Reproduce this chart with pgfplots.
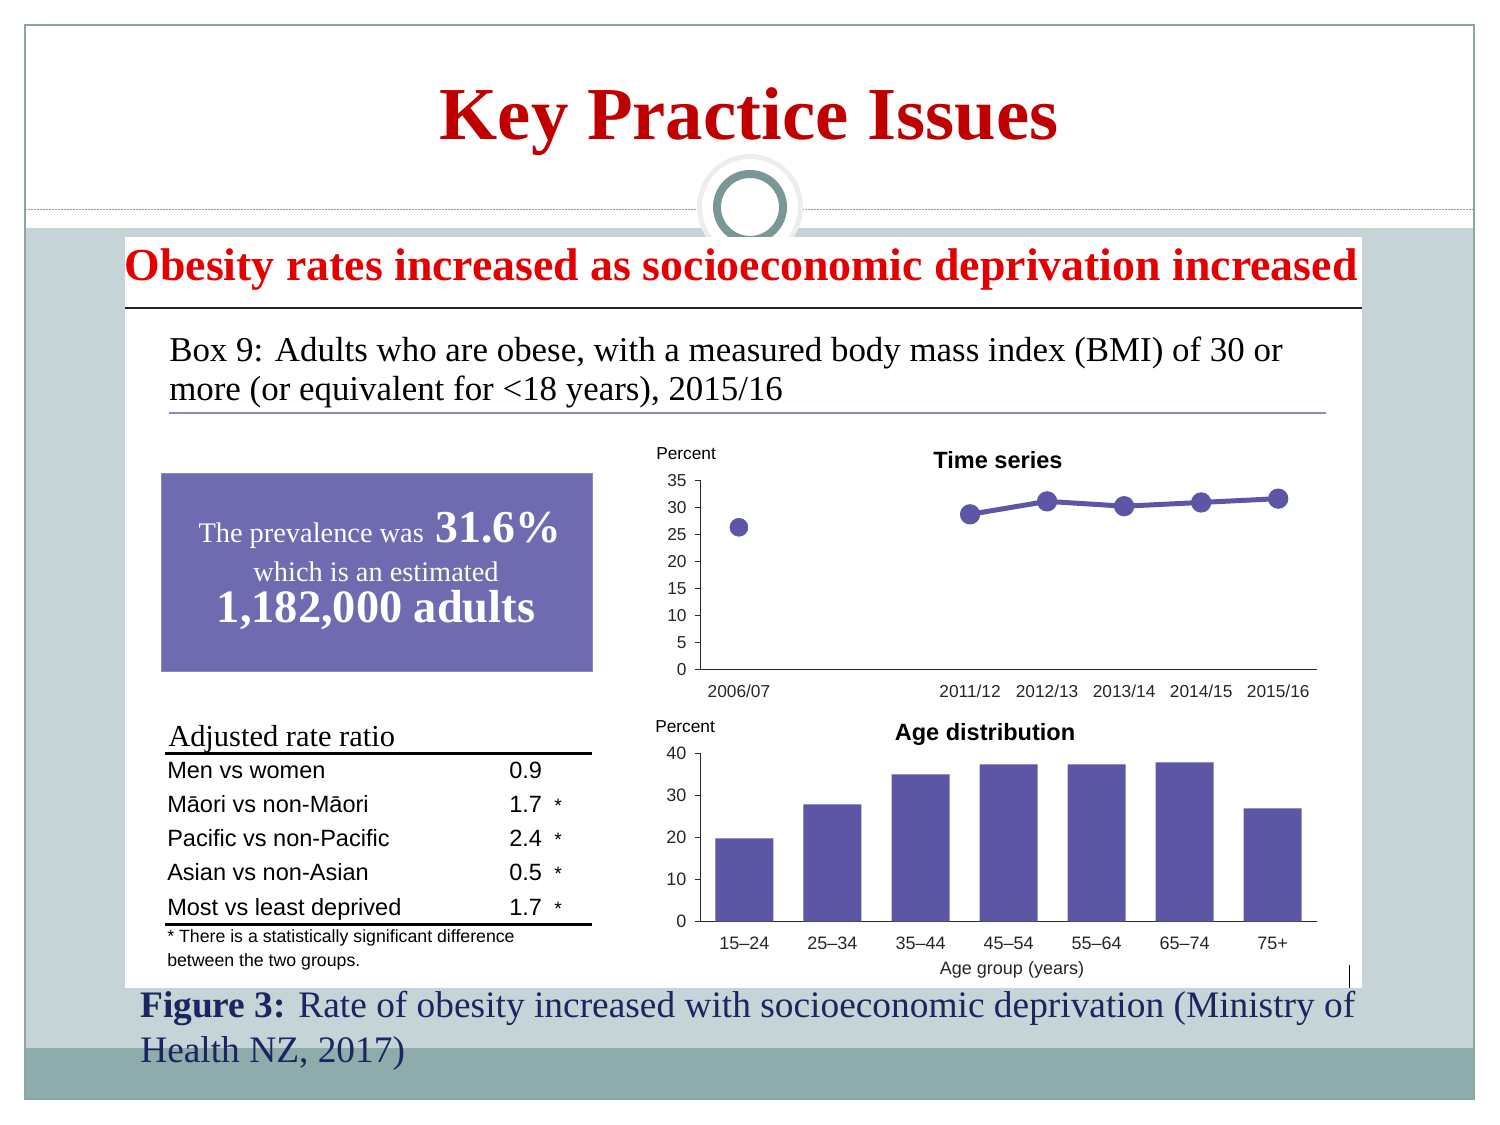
\documentclass[border=0pt]{standalone}
\usepackage{pgfplots}
\pgfplotsset{compat=1.18}
\usepackage{fontspec}
\setmainfont{Liberation Serif}
\setsansfont{Liberation Sans}
\newcommand\fsz[2]{\fontsize{#1}{#2}\selectfont}
\definecolor{titlered}{RGB}{192,0,0}
\definecolor{headred}{RGB}{228,0,0}
\definecolor{bgblue}{RGB}{198,212,215}
\definecolor{bgteal}{RGB}{143,172,172}
\definecolor{bordergray}{RGB}{140,165,165}
\definecolor{ringgray}{RGB}{122,150,150}
\definecolor{boxpurple}{RGB}{111,107,176}
\definecolor{plotpurple}{RGB}{92,86,165}
\definecolor{capnavy}{RGB}{25,38,95}
\definecolor{linepurple}{RGB}{140,136,205}
\definecolor{axisgray}{RGB}{40,40,40}
\begin{document}
\begin{tikzpicture}[x=0.01in,y=-0.01in]
\fill[white] (0,0) rectangle (1500,1125);
\path[use as bounding box] (0,0) rectangle (1500,1125);
% slide background
\fill[bgblue] (25,228) rectangle (1474,1048);
\fill[bgteal] (25,1048) rectangle (1474,1099);
\draw[bordergray, line width=0.015in] (25,25) rectangle (1474,1099);
\draw[gray!80, dash pattern=on 0.02in off 0.01in, line width=0.01in] (25,209) -- (1474,209);
\fill[black!7] (750,207) circle (53);
\fill[white] (750,207) circle (48);
\draw[ringgray, line width=0.08in] (750,207) circle (33);
% title
\node[anchor=base, inner sep=0, text=titlered, font=\bfseries\fsz{54}{60}] at (749,140) {Key Practice Issues};
% white panel
\fill[white] (125,237) rectangle (1362,988);
\node[anchor=base, inner sep=0, text=headred, font=\bfseries\fsz{33.1}{38}] at (741,280) {Obesity rates increased as socioeconomic deprivation increased};
\draw[black!85, line width=0.02in] (125,308) -- (1362,308);
\node[anchor=base west, inner sep=0, font=\fsz{25.2}{29}] at (169,361) {Box 9: Adults who are obese, with a measured body mass index (BMI) of 30 or};
\node[anchor=base west, inner sep=0, font=\fsz{25.2}{29}] at (169,400) {more (or equivalent for <18 years), 2015/16};
\draw[linepurple, line width=0.02in] (169,413) -- (1326,413);
% purple box
\fill[boxpurple] (161,473) rectangle (592,671);
\draw[plotpurple!70, line width=0.01in] (161,473) rectangle (592,671);
\node[anchor=base, inner sep=0, text=white] at (380,542) {\fsz{20.5}{24}The prevalence was\hspace{0.12in}{\bfseries\fsz{33}{36}31.6\%}};
\node[anchor=base, inner sep=0, text=white, font=\fsz{20.5}{24}] at (376,581) {which is an estimated};
\node[anchor=base, inner sep=0, text=white, font=\bfseries\fsz{33.5}{38}] at (376,622) {1,182,000 adults};
% table
\node[anchor=base west, inner sep=0, font=\fsz{22}{26}] at (168,746) {Adjusted rate ratio};
\draw[black, line width=0.03in] (165,753) -- (592,753);
\foreach \lab/\val/\st/\yy in {Men vs women/0.9//778, M\={a}ori vs non-M\={a}ori/1.7/*/812, Pacific vs non-Pacific/2.4/*/846, Asian vs non-Asian/0.5/*/880, Most vs least deprived/1.7/*/915}{
  \node[anchor=base west, inner sep=0, font=\sffamily\fsz{17}{19}] at (167,\yy) {\lab};
  \node[anchor=base west, inner sep=0, font=\sffamily\fsz{17}{19}] at (509,\yy) {\val};
  \node[anchor=base west, inner sep=0, font=\sffamily\fsz{14}{16}] at (554,\yy) {\st};
}
\draw[black, line width=0.03in] (165,924) -- (592,924);
\node[anchor=base west, inner sep=0, font=\sffamily\fsz{12.8}{14}] at (167,942) {* There is a statistically significant difference};
\node[anchor=base west, inner sep=0, font=\sffamily\fsz{12.8}{14}] at (167,966) {between the two groups.};
% time series
\node[anchor=base west, inner sep=0, font=\sffamily\fsz{12.5}{15}] at (656,459) {Percent};
\node[anchor=base, inner sep=0, font=\sffamily\bfseries\fsz{17}{20}] at (998,468) {Time series};
\begin{axis}[at={(7in,-6.69in)}, anchor=south west, scale only axis,
  width=6.16in, height=1.89in,
  xmin=-0.5, xmax=7.5, ymin=0, ymax=35,
  axis lines=left, axis line style={-, draw=axisgray, line width=0.015in},
  ytick={0,5,...,35}, xtick={0,3,4,5,6,7},
  xticklabels={2006/07,2011/12,2012/13,2013/14,2014/15,2015/16},
  x tick style={draw=none}, y tick style={draw=axisgray, line width=0.01in},
  tick align=outside, major tick length=0.05in,
  tick label style={font=\sffamily\fsz{12.5}{15}, text=black!85},
  xticklabel style={yshift=-0.06in},
  yticklabel style={xshift=-0.04in},
  /pgf/number format/assume math mode=true, clip=false]
\addplot[only marks, mark=*, mark size=6.5pt, color=plotpurple] coordinates {(0,26.3)};
\addplot[line width=3.6pt, color=plotpurple, mark=*, mark size=5.5pt] coordinates {(3,28.7) (4,31.1) (5,30.2) (6,30.9) (7,31.6)};
\end{axis}
% age distribution
\node[anchor=base west, inner sep=0, font=\sffamily\fsz{12.5}{15}] at (655,732) {Percent};
\node[anchor=base, inner sep=0, font=\sffamily\bfseries\fsz{17}{20}] at (985,740) {Age distribution};
\begin{axis}[at={(7in,-9.21in)}, anchor=south west, scale only axis,
  width=6.16in, height=1.68in,
  xmin=-0.5, xmax=6.5, ymin=0, ymax=40,
  axis lines=left, axis line style={-, draw=axisgray, line width=0.015in},
  ytick={0,10,...,40}, xtick={0,...,6},
  xticklabels={15--24,25--34,35--44,45--54,55--64,65--74,75+},
  x tick style={draw=none}, y tick style={draw=axisgray, line width=0.01in},
  tick align=outside, major tick length=0.05in,
  tick label style={font=\sffamily\fsz{13}{15}, text=black!85},
  xticklabel style={yshift=-0.06in},
  yticklabel style={xshift=-0.04in},
  /pgf/number format/assume math mode=true, clip=false]
\addplot[ybar, bar width=0.58in, fill=plotpurple, draw=none] coordinates {(0,19.8) (1,27.9) (2,35.0) (3,37.4) (4,37.4) (5,37.9) (6,26.9)};
\end{axis}
\node[anchor=base, inner sep=0, font=\sffamily\fsz{13}{15}, text=black!85] at (1012,974) {Age group (years)};
\draw[black, line width=0.01in] (1349,965) -- (1349,988);
% caption
\node[anchor=base west, inner sep=0, text=capnavy, font=\fsz{27}{30}] at (140,1017) {\textbf{Figure 3:} Rate of obesity increased with socioeconomic deprivation (Ministry of};
\node[anchor=base west, inner sep=0, text=capnavy, font=\fsz{27}{30}] at (140,1062) {Health NZ, 2017)};
\end{tikzpicture}
\end{document}
